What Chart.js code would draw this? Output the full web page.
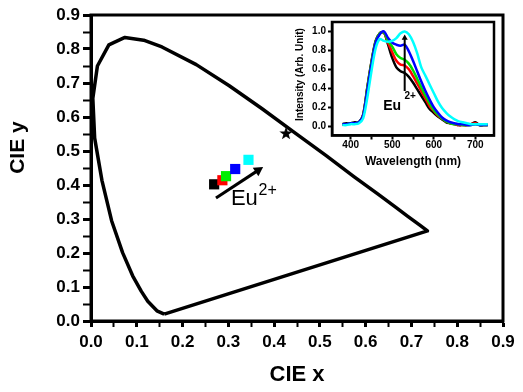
<!DOCTYPE html>
<html>
<head>
<meta charset="utf-8">
<script src="https://cdn.jsdelivr.net/npm/chart.js@4.4.1/dist/chart.umd.min.js"></script>
<style>
  html, body { margin: 0; padding: 0; background: #fff; }
  #wrap { position: relative; width: 523px; height: 392px; }
  #mainChart { position: absolute; left: 0; top: 0; }
  #insetChart { position: absolute; left: 288px; top: 14px; }
</style>
</head>
<body>
<div id="wrap">
  <canvas id="mainChart" width="523" height="392"></canvas>
  <canvas id="insetChart" width="215" height="160"></canvas>
</div>
<script>
/* =========================
   DATA
========================= */

// CIE 1931 spectral locus (closed by the purple line)
const locusX = [0.160, 0.144, 0.124, 0.110, 0.091, 0.069, 0.045, 0.024, 0.008, 0.004, 0.014, 0.039, 0.074, 0.115, 0.155, 0.230, 0.302, 0.373, 0.444, 0.513, 0.575, 0.627, 0.666, 0.692, 0.719, 0.735, 0.160];
const locusY = [0.020, 0.030, 0.058, 0.087, 0.133, 0.201, 0.295, 0.413, 0.538, 0.655, 0.750, 0.812, 0.834, 0.826, 0.806, 0.754, 0.692, 0.625, 0.555, 0.487, 0.424, 0.373, 0.334, 0.308, 0.281, 0.265, 0.020];

// sample colour points
const sampleX = [0.269, 0.287, 0.295, 0.315, 0.344];
const sampleY = [0.402, 0.414, 0.426, 0.447, 0.474];
const sampleColors = ["#000000", "#ff0000", "#00ee00", "#0000ff", "#00ffff"];

// star marker
const starX = [0.426];
const starY = [0.553];

// Eu2+ arrow (tail, head)
const arrowX = [0.273, 0.365];
const arrowY = [0.362, 0.443];

const cieTicks = [0, 0.05, 0.1, 0.15, 0.2, 0.25, 0.3, 0.35, 0.4, 0.45, 0.5, 0.55, 0.6, 0.65, 0.7, 0.75, 0.8, 0.85, 0.9];

// inset spectra
const wavelength = [380, 390, 400, 410, 420, 430, 440, 450, 460, 470, 480, 490, 500, 510, 520, 530, 540, 550, 560, 570, 580, 590, 600, 610, 620, 630, 640, 650, 660, 670, 680, 690, 700, 710, 720, 730];
const specBlack = [0.02, 0.03, 0.03, 0.04, 0.04, 0.12, 0.41, 0.68, 0.90, 0.98, 0.99, 0.86, 0.72, 0.62, 0.58, 0.56, 0.52, 0.46, 0.39, 0.32, 0.25, 0.18, 0.14, 0.10, 0.07, 0.04, 0.03, 0.02, 0.01, 0.01, 0.01, 0.02, 0.04, 0.01, 0.01, 0.01];
const specRed = [0.02, 0.02, 0.03, 0.03, 0.04, 0.12, 0.40, 0.67, 0.89, 0.98, 0.99, 0.88, 0.78, 0.69, 0.65, 0.64, 0.60, 0.53, 0.45, 0.37, 0.29, 0.21, 0.16, 0.11, 0.08, 0.05, 0.03, 0.02, 0.01, 0.01, 0.01, 0.02, 0.03, 0.01, 0.01, 0.01];
const specGreen = [0.02, 0.02, 0.03, 0.03, 0.04, 0.11, 0.40, 0.67, 0.89, 0.98, 0.99, 0.90, 0.84, 0.76, 0.72, 0.70, 0.66, 0.59, 0.50, 0.41, 0.32, 0.24, 0.17, 0.12, 0.08, 0.05, 0.03, 0.02, 0.02, 0.01, 0.01, 0.01, 0.02, 0.01, 0.01, 0.01];
const specBlue = [0.02, 0.02, 0.03, 0.03, 0.04, 0.11, 0.38, 0.65, 0.88, 0.97, 1.00, 0.93, 0.88, 0.86, 0.85, 0.86, 0.79, 0.69, 0.58, 0.47, 0.37, 0.28, 0.20, 0.14, 0.09, 0.06, 0.04, 0.03, 0.02, 0.02, 0.01, 0.01, 0.02, 0.01, 0.01, 0.01];
const specCyan = [0.01, 0.01, 0.02, 0.02, 0.03, 0.08, 0.30, 0.58, 0.82, 0.92, 0.90, 0.89, 0.90, 0.93, 0.98, 1.00, 0.97, 0.89, 0.77, 0.62, 0.53, 0.44, 0.35, 0.26, 0.19, 0.14, 0.10, 0.07, 0.05, 0.04, 0.03, 0.02, 0.02, 0.02, 0.02, 0.02];

const insetArrowX = [530, 530];
const insetArrowY = [0.37, 0.93];

const wlTicks = [400, 450, 500, 550, 600, 650, 700];
const intensityTicks = [0, 0.2, 0.4, 0.6, 0.8, 1.0];

/* =========================
   HELPERS
========================= */

const FONT = "'Liberation Sans', Arial, sans-serif";

const toPoints = (xs, ys) => xs.map((x, i) => ({ x: x, y: ys[i] }));

function makeStar(size) {
  const c = document.createElement("canvas");
  c.width = size;
  c.height = size;
  const g = c.getContext("2d");
  g.fillStyle = "#000";
  g.beginPath();
  for (let i = 0; i < 10; i++) {
    const r = i % 2 ? size * 0.2 : size / 2;
    const a = -Math.PI / 2 + i * Math.PI / 5;
    g.lineTo(size / 2 + r * Math.cos(a), size / 2 + r * Math.sin(a) + size * 0.05);
  }
  g.closePath();
  g.fill();
  return c;
}

// box round the plot area
function framePlugin(width) {
  return {
    id: "frame",
    afterDraw(chart) {
      const a = chart.chartArea;
      const ctx = chart.ctx;
      ctx.save();
      ctx.strokeStyle = "#000";
      ctx.lineWidth = width;
      ctx.strokeRect(a.left, a.top, a.right - a.left, a.bottom - a.top);
      ctx.restore();
    }
  };
}

// text placed at data coordinates
function textPlugin(items) {
  return {
    id: "texts",
    afterDatasetsDraw(chart) {
      const ctx = chart.ctx;
      ctx.save();
      ctx.fillStyle = "#000";
      ctx.textAlign = "center";
      ctx.textBaseline = "middle";
      items.forEach(t => {
        ctx.font = t.font;
        ctx.fillText(
          t.text,
          chart.scales.x.getPixelForValue(t.x),
          chart.scales.y.getPixelForValue(t.y)
        );
      });
      ctx.restore();
    }
  };
}

/* =========================
   MAIN CIE CHART
========================= */

const mainChart = new Chart(document.getElementById("mainChart"), {
  type: "scatter",
  data: {
    datasets: [
      {
        data: toPoints(arrowX, arrowY),
        showLine: true,
        borderColor: "#000",
        borderWidth: 3,
        pointStyle: "triangle",
        pointRadius: [0, 6],
        pointRotation: 57,
        pointBackgroundColor: "#000",
        pointBorderWidth: 0
      },
      {
        data: toPoints(starX, starY),
        pointStyle: makeStar(14),
        pointRadius: 7
      },
      {
        data: toPoints(sampleX, sampleY),
        pointStyle: "rect",
        pointRadius: 7.2,
        pointBackgroundColor: sampleColors,
        pointBorderWidth: 0
      },
      {
        data: toPoints(locusX, locusY),
        showLine: true,
        borderColor: "#000",
        borderWidth: 3.5,
        pointRadius: 0,
        borderJoinStyle: "round"
      }
    ]
  },
  options: {
    responsive: false,
    animation: false,
    layout: { padding: { top: 15, right: 20, bottom: 0, left: 0 } },
    plugins: { legend: { display: false }, tooltip: { enabled: false } },
    scales: {
      x: {
        type: "linear",
        min: 0,
        max: 0.9,
        afterFit: s => { s.height = 71; },
        afterBuildTicks: s => { s.ticks = cieTicks.map(v => ({ value: v })); },
        ticks: {
          autoSkip: false,
          maxRotation: 0,
          padding: 5,
          color: "#000",
          font: { family: FONT, weight: "bold", size: 17 },
          callback: (v, i) => (i % 2 === 0 ? Number(v).toFixed(1) : "")
        },
        grid: {
          drawOnChartArea: false,
          tickLength: 6,
          tickColor: "#000",
          tickWidth: ctx => (ctx.index % 2 === 0 ? 3 : 2)
        },
        border: { color: "#000", width: 3 },
        title: {
          display: true,
          text: "CIE x",
          color: "#000",
          font: { family: FONT, weight: "bold", size: 22 },
          padding: { top: 0, bottom: 4 }
        }
      },
      y: {
        type: "linear",
        min: 0,
        max: 0.9,
        afterFit: s => { s.width = 91; },
        afterBuildTicks: s => { s.ticks = cieTicks.map(v => ({ value: v })); },
        ticks: {
          autoSkip: false,
          padding: 3,
          color: "#000",
          font: { family: FONT, weight: "bold", size: 17 },
          callback: (v, i) => (i % 2 === 0 ? Number(v).toFixed(1) : "")
        },
        grid: {
          drawOnChartArea: false,
          tickLength: 8,
          tickColor: "#000",
          tickWidth: ctx => (ctx.index % 2 === 0 ? 3 : 2)
        },
        border: { color: "#000", width: 3 },
        title: {
          display: true,
          text: "       CIE y",
          color: "#000",
          font: { family: FONT, weight: "bold", size: 21 },
          padding: { top: 6, bottom: 0 }
        }
      }
    }
  },
  plugins: [
    framePlugin(3),
    textPlugin([
      { text: "Eu", x: 0.335, y: 0.359, font: "22px " + FONT },
      { text: "2+", x: 0.386, y: 0.384, font: "16px " + FONT }
    ])
  ]
});

/* =========================
   INSET SPECTRA CHART
========================= */

const spectra = [
  { data: specBlack, color: "#000000" },
  { data: specRed, color: "#ff0000" },
  { data: specGreen, color: "#00dd00" },
  { data: specBlue, color: "#0000ff" },
  { data: specCyan, color: "#00ffff" }
];

const insetChart = new Chart(document.getElementById("insetChart"), {
  type: "scatter",
  data: {
    datasets: [
      {
        data: toPoints(insetArrowX, insetArrowY),
        showLine: true,
        borderColor: "#000",
        borderWidth: 2,
        pointStyle: "triangle",
        pointRadius: [0, 3.5],
        pointBackgroundColor: "#000",
        pointBorderWidth: 0,
        order: 0
      }
    ].concat(spectra.map((s, i) => ({
      data: toPoints(wavelength, s.data),
      showLine: true,
      borderColor: s.color,
      borderWidth: 2.5,
      pointRadius: 0,
      tension: 0.3,
      order: 10 - i
    })))
  },
  options: {
    responsive: false,
    animation: false,
    layout: { padding: { top: 7.5, right: 9, bottom: 0, left: 0 } },
    plugins: { legend: { display: false }, tooltip: { enabled: false } },
    scales: {
      x: {
        type: "linear",
        min: 355,
        max: 745,
        afterFit: s => { s.height = 38.5; },
        afterBuildTicks: s => { s.ticks = wlTicks.map(v => ({ value: v })); },
        ticks: {
          autoSkip: false,
          maxRotation: 0,
          padding: 0,
          color: "#000",
          font: { family: FONT, weight: "bold", size: 10 },
          callback: (v, i) => (i % 2 === 0 ? String(v) : "")
        },
        grid: {
          drawOnChartArea: false,
          tickLength: 4,
          tickColor: "#000",
          tickWidth: 2
        },
        border: { color: "#000", width: 2.5 },
        title: {
          display: true,
          text: "Wavelength (nm)",
          color: "#000",
          font: { family: FONT, weight: "bold", size: 12 },
          padding: { top: 0, bottom: 5 }
        }
      },
      y: {
        type: "linear",
        min: -0.1,
        max: 1.1,
        afterFit: s => { s.width = 44; },
        afterBuildTicks: s => { s.ticks = intensityTicks.map(v => ({ value: v })); },
        ticks: {
          autoSkip: false,
          padding: 2,
          color: "#000",
          font: { family: FONT, weight: "bold", size: 10 },
          callback: v => Number(v).toFixed(1)
        },
        grid: {
          drawOnChartArea: false,
          tickLength: 4,
          tickColor: "#000",
          tickWidth: 2
        },
        border: { color: "#000", width: 2.5 },
        title: {
          display: true,
          text: "   Intensity (Arb. Unit)",
          color: "#000",
          font: { family: FONT, weight: "bold", size: 10 },
          padding: { top: 6, bottom: 0 }
        }
      }
    }
  },
  plugins: [
    framePlugin(2.5),
    textPlugin([
      { text: "Eu", x: 500, y: 0.21, font: "bold 14px " + FONT },
      { text: "2+", x: 543, y: 0.31, font: "bold 10px " + FONT }
    ])
  ]
});
</script>
</body>
</html>
